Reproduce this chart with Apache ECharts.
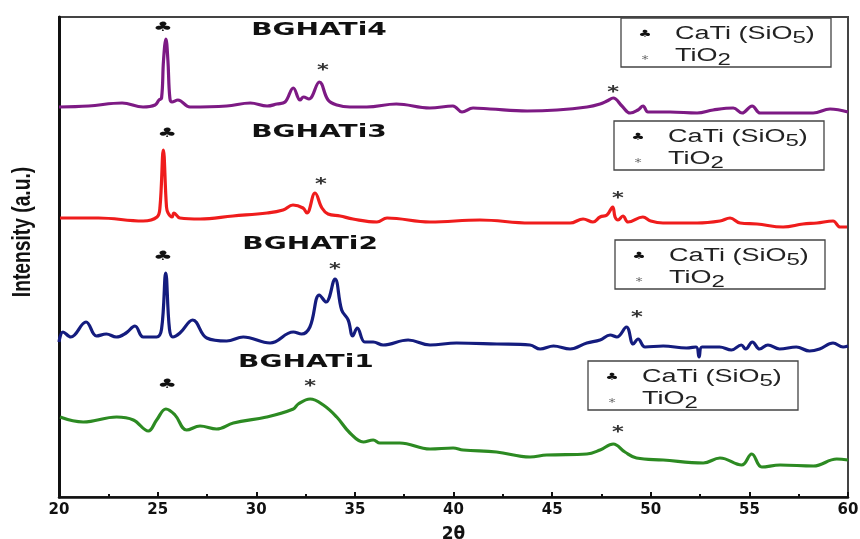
<!DOCTYPE html>
<html><head><meta charset="utf-8">
<script src="https://cdn.jsdelivr.net/npm/echarts@6/dist/echarts.min.js"></script>
<style>html,body{margin:0;padding:0;background:#fff}#c{width:860px;height:539px}</style>
</head><body><div id="c"></div>
<script>
// 2θ axis
const xMin = 20, xMax = 60, xStep = 5;
// stacked XRD patterns, [2θ, intensity (a.u., offset)]
const bghati4 = [[20.0,390],[21.5,391],[23.2,394],[24.26,390],[24.87,392],[25.07,397],[25.2,399],[25.3,437],[25.42,458],[25.52,437],[25.62,399],[25.73,395],[26.03,397],[26.64,390],[28.5,391],[29.7,394],[30.55,391],[31.05,393],[31.46,395],[31.88,409],[32.22,397],[32.4,400],[32.67,398],[33.2,415],[33.64,397],[34.09,392],[34.75,390],[35.6,390],[37.1,393],[38.8,389],[39.97,391],[40.43,385],[40.99,389],[41.85,388],[43.73,386],[45.25,387],[46.77,390],[47.43,393],[47.78,396],[48.1,399],[48.54,391],[48.95,384],[49.35,387],[49.61,391],[49.86,385],[50.98,385],[52.35,384],[53.16,387],[54.18,389],[54.63,384],[55.14,391],[55.55,384],[56.56,384],[58.23,384],[59.09,388],[60.0,385]];
const bghati3 = [[20.05,279],[22.0,279],[24.26,276],[24.97,280],[25.12,290],[25.29,347],[25.45,290],[25.53,284],[25.73,280],[25.83,284],[26.13,279],[27.15,278],[28.82,281],[30.55,284],[31.36,287],[31.86,292],[32.37,289],[32.57,284],[32.98,304],[33.33,289],[33.64,283],[34.25,281],[34.9,278],[36.12,275],[36.63,279],[38.81,275],[41.34,277],[43.88,274],[45.91,274],[46.57,278],[47.07,275],[47.43,280],[47.78,282],[48.07,290],[48.19,280],[48.34,277],[48.59,281],[48.85,275],[49.6,280],[50.0,276],[50.62,274],[52.35,274],[53.51,276],[54.02,279],[54.53,274],[55.39,273],[56.71,270],[57.72,273],[58.43,274],[59.24,276],[59.6,270],[59.95,270]];
const bghati2 = [[20.0,155],[20.2,165],[20.6,160],[21.37,175],[21.9,161],[22.4,163],[22.9,160],[23.4,164],[23.85,171],[24.27,160],[24.95,160],[25.2,168],[25.41,224],[25.6,168],[25.77,160],[26.13,164],[26.78,177],[27.49,159],[28.5,156],[29.34,160],[30.7,154],[31.88,165],[32.3,163],[32.72,170],[33.2,202],[33.54,195],[33.99,218],[34.33,187],[34.66,177],[34.89,161],[35.12,169],[35.5,155],[35.93,155],[36.43,152],[37.7,157],[38.81,152],[40.15,154],[42.2,153],[43.88,152],[44.39,148],[45.07,151],[45.91,148],[46.76,154],[47.43,157],[47.94,162],[48.28,160],[48.77,170],[49.11,153],[49.36,158],[49.71,150],[50.63,151],[51.81,149],[52.3,150],[52.45,140],[52.6,150],[53.49,150],[54.09,147],[54.59,152],[54.81,148],[55.15,155],[55.52,148],[55.94,152],[56.53,148],[57.38,150],[58.05,146],[58.56,148],[59.24,154],[59.75,150],[60.0,151]];
const bghati1 = [[20.05,80],[21.23,75],[22.92,80],[23.77,77],[24.53,66],[24.95,77],[25.42,88],[25.88,82],[26.47,67],[27.15,71],[27.99,68],[28.84,74],[30.53,80],[31.88,88],[32.13,93],[32.73,98],[33.4,92],[34.08,80],[34.75,64],[35.43,55],[35.93,57],[36.27,54],[37.28,54],[38.81,48],[39.98,49],[40.49,47],[42.18,45],[43.88,40],[44.72,42],[46.76,43],[47.43,47],[48.1,53],[48.69,45],[49.28,39],[50.63,37],[52.66,34],[53.51,39],[54.61,32],[55.12,43],[55.63,30],[56.56,32],[58.25,31],[59.43,38],[60.0,37]];

const sampleNames = ['BGHATi4','BGHATi3','BGHATi2','BGHATi1'];
const sampleData = [bghati4, bghati3, bghati2, bghati1];
const sampleColors = ['#7d1a84','#ef1c1c','#141c7e','#2c8a22'];
// annotation anchors in data coordinates
const nameAt = [[33.18,466],[33.18,364],[32.73,252],[32.52,134]];
const clubAt = [[25.27,469],[25.48,363],[25.27,240],[25.48,112]];
const starAt = [[33.38,431],[48.09,409],[33.28,317],[48.34,303],[33.99,232],[49.3,184],[32.73,115],[48.34,69]];
// phase legend text
const phaseMain = ['CaTi (SiO','TiO'];
const phaseSub = ['5','2'];
const phaseTail = [')',''];
// legend box top-left corners (px)
const legendBoxes = [[621,18],[614,121],[615,240],[588,361]];

const chart = echarts.init(document.getElementById('c'));
chart.setOption({
  backgroundColor:'#fff',
  animation:false,
  grid:{left:59,right:12,top:17,bottom:42,show:true,borderColor:'#444',borderWidth:2,
    containLabel:false,outerBoundsMode:'none'},
  xAxis:{type:'value',min:xMin,max:xMax,interval:xStep,
    name:'2θ',nameLocation:'middle',nameGap:29,
    nameTextStyle:{fontFamily:'DejaVu Sans',fontWeight:'bold',fontSize:17,color:'#111'},
    axisLine:{lineStyle:{color:'#111',width:2.5}},
    axisTick:{inside:true,length:5,lineStyle:{color:'#111',width:2}},
    minorTick:{show:true,splitNumber:2,length:3,lineStyle:{color:'#111',width:2}},
    splitLine:{show:false},
    axisLabel:{fontFamily:'DejaVu Sans',fontWeight:'bold',fontSize:15,color:'#111',margin:6}
  },
  yAxis:{type:'value',min:0,max:480,
    axisLine:{show:true,lineStyle:{color:'#111',width:3}},
    axisTick:{show:false},axisLabel:{show:false},splitLine:{show:false}},
  series: sampleData.map((d,i)=>({
    type:'line',name:sampleNames[i],data:d,showSymbol:false,symbol:'none',
    smooth:0.4,
    lineStyle:{color:sampleColors[i],width:3.2},z:3
  }))
});

function px(p){return chart.convertToPixel({gridIndex:0},p);}
const mctx = document.createElement('canvas').getContext('2d');
function tw(font, s){mctx.font = font; return mctx.measureText(s).width;}
const mainFont = '18px "Liberation Sans"';
const subFont = '16px "Liberation Sans"';
function txt(x,y,s,font,fill,align){
  return {type:'text',x:x,y:y,style:{text:s,font:font,fill:fill,align:align||'left',verticalAlign:'middle',textAlign:align||'left',textVerticalAlign:'middle'}};
}
const g = [];
sampleNames.forEach((n,i)=>{
  const p = px(nameAt[i]);
  g.push({type:'text',x:p[0],y:p[1],scaleX:1.65,z:10,
    style:{text:n,font:'bold 17px "DejaVu Sans"',fill:'#111',align:'center',verticalAlign:'middle',textAlign:'center',textVerticalAlign:'middle'}});
  const c = px(clubAt[i]);
  g.push({type:'text',x:c[0],y:c[1],scaleX:1.7,z:10,
    style:{text:'♣',font:'13px "DejaVu Sans"',fill:'#111',align:'center',verticalAlign:'middle',textAlign:'center',textVerticalAlign:'middle'}});
});
starAt.forEach(s=>{
  const p = px(s);
  g.push({type:'text',x:p[0],y:p[1]+5,scaleX:1.5,z:10,
    style:{text:'*',font:'bold 15px "DejaVu Sans"',fill:'#333',align:'center',verticalAlign:'middle',textAlign:'center',textVerticalAlign:'middle'}});
});
legendBoxes.forEach(b=>{
  const rows = [];
  for(let k=0;k<2;k++){
    const w1 = tw(mainFont, phaseMain[k]);
    const w2 = tw(subFont, phaseSub[k]);
    const parts = [txt(0,0,phaseMain[k],mainFont,'#222'), txt(w1,5,phaseSub[k],subFont,'#222')];
    if (phaseTail[k]) parts.push(txt(w1+w2,0,phaseTail[k],mainFont,'#222'));
    rows.push({type:'group',x:54,y:k===0?16:38,scaleX:1.5,children:parts});
  }
  g.push({type:'group',x:b[0],y:b[1],z:20,children:[
    {type:'rect',shape:{x:0,y:0,width:210,height:49},style:{fill:'#fff',stroke:'#444',lineWidth:1.3}},
    {type:'text',x:24,y:16,scaleX:1.5,style:{text:'♣',font:'10px "DejaVu Sans"',fill:'#111',align:'center',verticalAlign:'middle',textAlign:'center',textVerticalAlign:'middle'}},
    {type:'text',x:24,y:42,scaleX:1.3,style:{text:'*',font:'11px "DejaVu Sans"',fill:'#666',align:'center',verticalAlign:'middle',textAlign:'center',textVerticalAlign:'middle'}},
    ...rows
  ]});
});
// y-axis title (condensed)
g.push({type:'text',x:23,y:232,rotation:Math.PI/2,scaleX:0.74,z:10,
  style:{text:'Intensity (a.u.)',font:'bold 26px "Liberation Sans"',fill:'#111',align:'center',verticalAlign:'middle',textAlign:'center',textVerticalAlign:'middle'}});
chart.setOption({graphic:g});
</script></body></html>
